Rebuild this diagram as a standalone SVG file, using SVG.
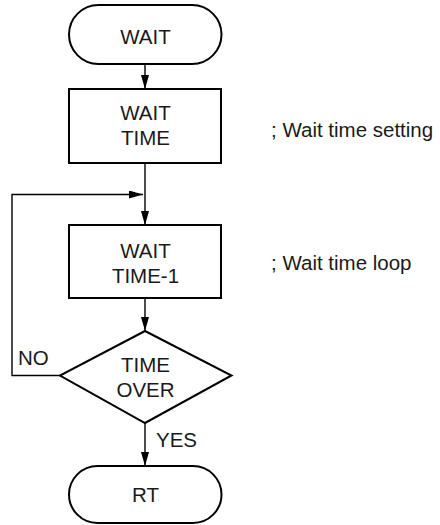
<svg xmlns="http://www.w3.org/2000/svg" width="440" height="525" viewBox="0 0 440 525">
<defs>
<style>
.shape{fill:#fff;stroke:#000;stroke-width:2}
.line{fill:none;stroke:#000;stroke-width:1.4}
text{font-family:"Liberation Sans",Arial,sans-serif;font-size:20.5px;fill:#1a1a1a}
.c{text-anchor:middle}
</style>
<marker id="arr" viewBox="0 0 14 8" refX="14" refY="4" markerWidth="14" markerHeight="8" markerUnits="userSpaceOnUse" orient="auto">
<path d="M0,0 L14,4 L0,8 Z" fill="#000"/>
</marker>
</defs>
<g id="connectors">
<line class="line" x1="145" y1="64" x2="145" y2="89" marker-end="url(#arr)"/>
<line class="line" x1="145" y1="163" x2="145" y2="225" marker-end="url(#arr)"/>
<polyline class="line" points="60,375.5 12,375.5 12,194.5 143,194.5" marker-end="url(#arr)"/>
<line class="line" x1="145" y1="298" x2="145" y2="331" marker-end="url(#arr)"/>
<line class="line" x1="145" y1="423" x2="145" y2="466" marker-end="url(#arr)"/>
<text x="18" y="365">NO</text>
<text x="156" y="447">YES</text>
</g>
<g id="start">
<rect class="shape" x="69" y="5" width="152.5" height="59" rx="29.5" ry="29.5"/>
<text class="c" x="145.5" y="44">WAIT</text>
</g>
<g id="set">
<rect class="shape" x="69" y="89" width="152" height="74"/>
<text class="c" x="145.5" y="120">WAIT</text>
<text class="c" x="145.5" y="144.5">TIME</text>
</g>
<g id="dec">
<rect class="shape" x="69" y="225" width="152" height="73"/>
<text class="c" x="145.5" y="258">WAIT</text>
<text class="c" x="145.5" y="282.5">TIME-1</text>
</g>
<g id="check">
<polygon class="shape" points="145,331 231.5,375.5 145,423 60,375.5"/>
<text class="c" x="145.5" y="371.5">TIME</text>
<text class="c" x="145.5" y="396.5">OVER</text>
</g>
<g id="end">
<rect class="shape" x="69" y="466" width="152.5" height="57" rx="28.5" ry="28.5"/>
<text class="c" x="145.5" y="501.5">RT</text>
</g>
<g id="comments">
<text x="271" y="137">; Wait time setting</text>
<text x="271" y="270">; Wait time loop</text>
</g>
</svg>
